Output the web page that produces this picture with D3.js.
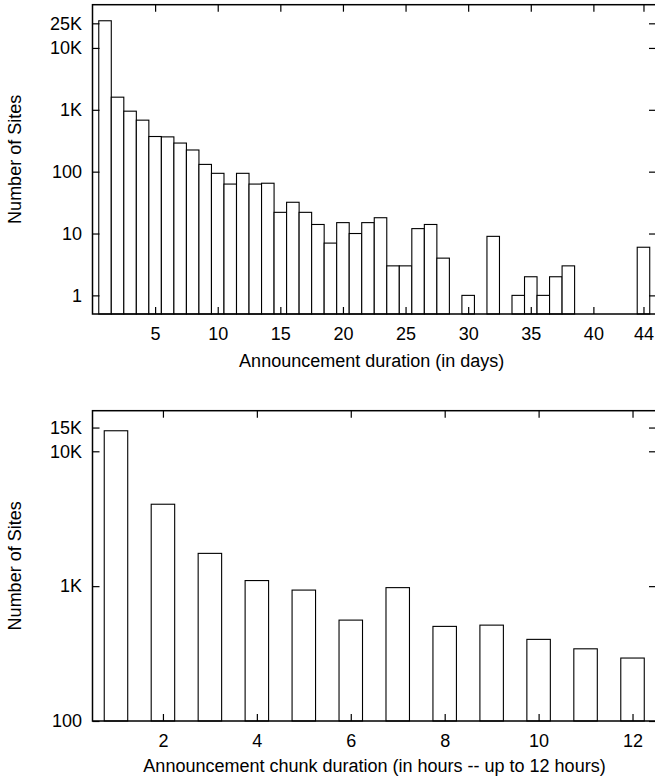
<!DOCTYPE html>
<html>
<head>
<meta charset="utf-8">
<script src="https://cdn.jsdelivr.net/npm/d3@7"></script>
<style>
  html, body { margin: 0; padding: 0; background: #fff; }
  svg { display: block; }
  text { font-family: "Liberation Sans", Arial, Helvetica, sans-serif; fill: #000; }
</style>
</head>
<body>
<svg id="chart" width="655" height="781"></svg>
<script>
// ---------- Data ----------
// Top panel: announcement duration in days
const dayCategories = [1,2,3,4,5,6,7,8,9,10,11,12,13,14,15,16,17,18,19,20,21,22,23,24,25,26,27,28,30,32,34,35,36,37,38,44];
const daySites      = [27500,1600,950,680,370,365,290,224,131,94,63,94,63,65,22,32,22,14,7,15,10,15,18,3,3,12,14,4,1,9,1,2,1,2,3,6];
const dayTickValues = [5,10,15,20,25,30,35,40,44];
const dayYTicks     = [1,10,100,1000,10000,25000];
const dayYTickLabels= ["1","10","100","1K","10K","25K"];

// Bottom panel: announcement chunk duration in hours
const hourCategories = [1,2,3,4,5,6,7,8,9,10,11,12];
const hourSites      = [14200,4050,1750,1100,935,560,975,503,514,403,343,293];
const hourTickValues = [2,4,6,8,10,12];
const hourYTicks     = [100,1000,10000,15000];
const hourYTickLabels= ["100","1K","10K","15K"];

const yLabel = "Number of Sites";
const dayXLabel = "Announcement duration (in days)";
const hourXLabel = "Announcement chunk duration (in hours -- up to 12 hours)";

// ---------- Drawing ----------
const svg = d3.select("#chart");
const FONT = 18;
const TICK = 7;

function panel(cfg) {
  const g = svg.append("g");
  const x = d3.scaleLinear().domain(cfg.xDomain).range([cfg.left, cfg.right]);
  const y = d3.scaleLog().domain(cfg.yDomain).range([cfg.bottom, cfg.top]);

  // bars
  g.append("g").selectAll("rect")
    .data(cfg.cats.map((c, i) => ({c, v: cfg.vals[i]})))
    .join("rect")
    .attr("x", d => x(d.c - cfg.barHalf))
    .attr("width", d => x(d.c + cfg.barHalf) - x(d.c - cfg.barHalf))
    .attr("y", d => y(d.v))
    .attr("height", d => cfg.bottom - y(d.v))
    .attr("fill", "#fff")
    .attr("stroke", "#000")
    .attr("stroke-width", 1.1);

  const yFmt = d => cfg.yLabels[cfg.yTicks.indexOf(d)];

  // bottom axis
  const xb = g.append("g").attr("transform", `translate(0,${cfg.bottom})`)
    .call(d3.axisBottom(x).tickValues(cfg.xTicks).tickFormat(d3.format("d"))
      .tickSizeInner(-TICK).tickSizeOuter(0).tickPadding(13));
  // top axis (mirror)
  const xt = g.append("g").attr("transform", `translate(0,${cfg.top})`)
    .call(d3.axisTop(x).tickValues(cfg.xTicks).tickFormat("")
      .tickSizeInner(-TICK).tickSizeOuter(0));
  // left axis
  const yl = g.append("g").attr("transform", `translate(${cfg.left},0)`)
    .call(d3.axisLeft(y).tickValues(cfg.yTicks).tickFormat(yFmt)
      .tickSizeInner(-TICK).tickSizeOuter(0).tickPadding(10.5));
  // right axis (mirror)
  const yr = g.append("g").attr("transform", `translate(${cfg.right},0)`)
    .call(d3.axisRight(y).tickValues(cfg.yTicks).tickFormat("")
      .tickSizeInner(-TICK).tickSizeOuter(0));

  [xb, xt, yl, yr].forEach(a => {
    a.select(".domain").remove();
    a.attr("font-family", null).attr("font-size", null);
    a.selectAll("line").attr("stroke", "#000").attr("stroke-width", 1.2);
    a.selectAll("text").style("font-size", FONT + "px").attr("fill", "#000");
  });

  // frame
  g.append("rect")
    .attr("x", cfg.left).attr("y", cfg.top)
    .attr("width", cfg.right - cfg.left).attr("height", cfg.bottom - cfg.top)
    .attr("fill", "none").attr("stroke", "#000").attr("stroke-width", 1.5);

  // axis titles
  g.append("text")
    .attr("x", cfg.xLabelX).attr("y", cfg.bottom + cfg.xLabelDy)
    .attr("text-anchor", "middle").style("font-size", FONT + "px")
    .text(cfg.xLabel);
  g.append("text")
    .attr("transform", `translate(21,${(cfg.top + cfg.bottom) / 2}) rotate(-90)`)
    .attr("text-anchor", "middle").style("font-size", FONT + "px")
    .text(yLabel);
}

panel({
  cats: dayCategories, vals: daySites, barHalf: 0.5,
  xDomain: [0, 45], yDomain: [0.5, 50000],
  left: 92.5, right: 656, top: 4.7, bottom: 314,
  xTicks: dayTickValues, yTicks: dayYTicks, yLabels: dayYTickLabels,
  xLabel: dayXLabel, xLabelX: 371.7, xLabelDy: 52.5
});

panel({
  cats: hourCategories, vals: hourSites, barHalf: 0.25,
  xDomain: [0.5, 12.5], yDomain: [100, 20000],
  left: 92.5, right: 656, top: 410.7, bottom: 721,
  xTicks: hourTickValues, yTicks: hourYTicks, yLabels: hourYTickLabels,
  xLabel: hourXLabel, xLabelX: 374.5, xLabelDy: 51
});
</script>
</body>
</html>
